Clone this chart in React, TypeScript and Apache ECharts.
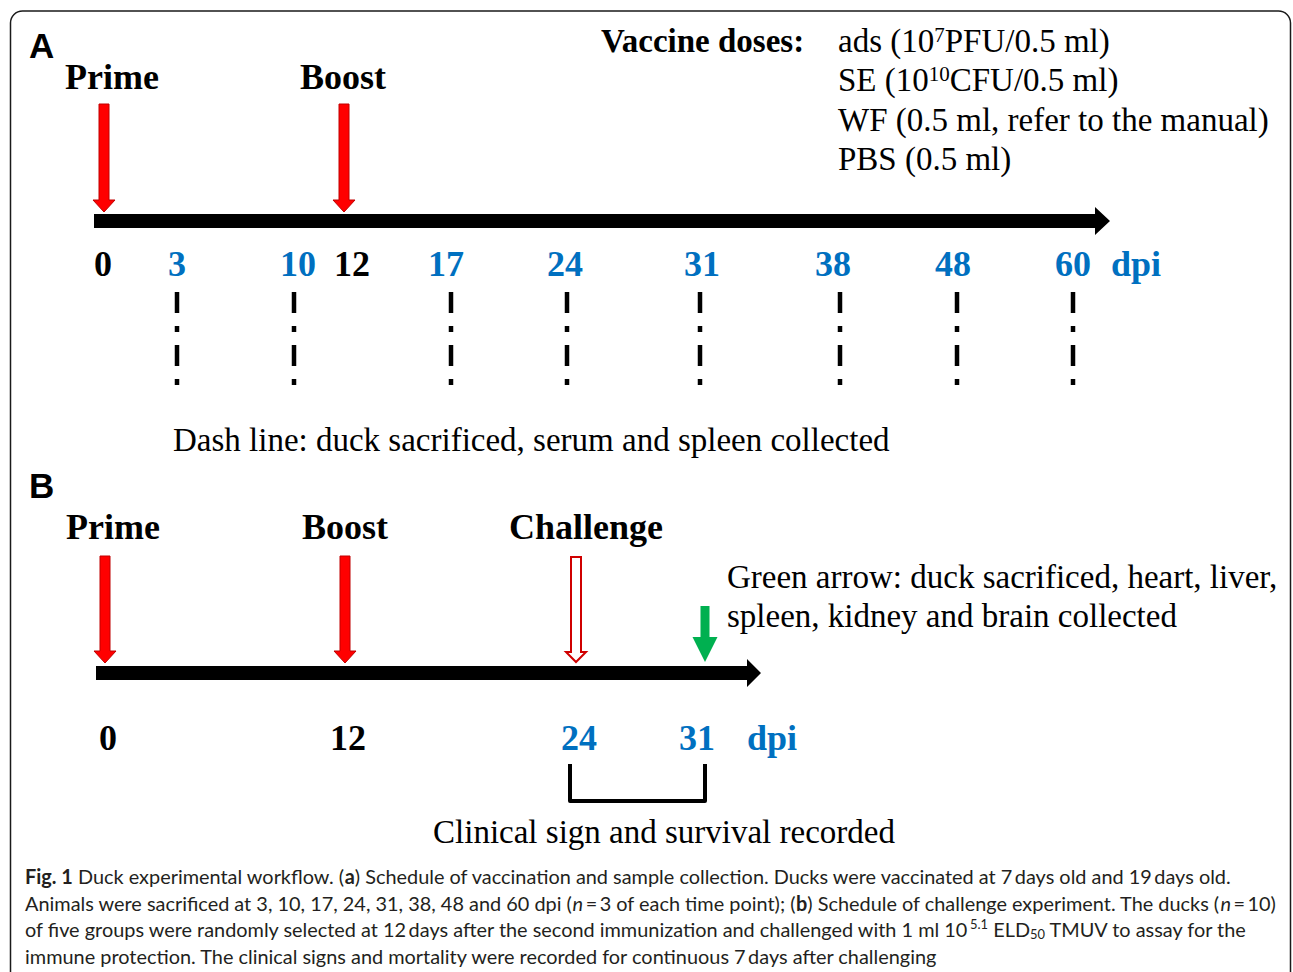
import React, { useEffect, useRef } from 'react';
import * as echarts from 'echarts';

// ---------- content ----------
const panelADays = [0, 3, 10, 12, 17, 24, 31, 38, 48, 60];
const vaccinationDays = [0, 12];
const samplingDays = [3, 10, 17, 24, 31, 38, 48, 60];
const panelAEventLabels = ['Prime', 'Boost'];
const panelAEventDays = [0, 12];

const panelBDays = [0, 12, 24, 31];
const panelBEventLabels = ['Prime', 'Boost', 'Challenge'];
const panelBEventDays = [0, 12, 24];
const challengeDay = 24;
const necropsyDay = 31;
const observationWindow = [24, 31];

const doseTitle = 'Vaccine doses:';
const doseLines = [
  'ads (10{sup|7}PFU/0.5 ml)',
  'SE (10{sup|10}CFU/0.5 ml)',
  'WF (0.5 ml, refer to the manual)',
  'PBS (0.5 ml)',
];
const dashNote = 'Dash line: duck sacrificed, serum and spleen collected';
const greenNote = ['Green arrow: duck sacrificed, heart, liver,', 'spleen, kidney and brain collected'];
const windowNote = 'Clinical sign and survival recorded';
const captionLines = [
  '{b|Fig. 1} Duck experimental workflow. ({b|a}) Schedule of vaccination and sample collection. Ducks were vaccinated at 7\u2009days old and 19\u2009days old.',
  'Animals were sacrificed at 3, 10, 17, 24, 31, 38, 48 and 60 dpi ({i|n}\u2009=\u20093 of each time point); ({b|b}) Schedule of challenge experiment. The ducks ({i|n}\u2009=\u200910)',
  'of five groups were randomly selected at 12\u2009days after the second immunization and challenged with 1 ml 10{sup|5.1} ELD{sub|50} TMUV to assay for the',
  'immune protection. The clinical signs and mortality were recorded for continuous 7\u2009days after challenging',
];

// ---------- layout (schematic, non-linear timeline) ----------
const A_LABEL_X: Record<number, number> = { 0: 103, 3: 177, 10: 298, 12: 352, 17: 446, 24: 565, 31: 702, 38: 833, 48: 953, 60: 1073 };
const A_DASH_X: Record<number, number> = { 3: 177, 10: 294, 17: 451, 24: 567, 31: 700, 38: 840, 48: 957, 60: 1073 };
const A_ARROW_X: Record<number, number> = { 0: 104, 12: 344 };
const A_EVENT_X: Record<number, number> = { 0: 65, 12: 300 };
const B_LABEL_X: Record<number, number> = { 0: 108, 12: 348, 24: 579, 31: 697 };
const B_ARROW_X: Record<number, number> = { 0: 105, 12: 345, 24: 576, 31: 705 };
const B_EVENT_X: Record<number, number> = { 0: 66, 12: 302, 24: 509 };

const SERIF = '"Liberation Serif", "Times New Roman", serif';
const SANS = '"Liberation Sans", Arial, sans-serif';
const CAP = 'Lato';
const BLUE = '#0070C0';
const RED = '#FF0000';

function downArrow(x: number, top: number, tip: number, shaftW: number, headW: number, headH: number, style: any) {
  const s = shaftW / 2, h = headW / 2, hy = tip - headH;
  return {
    type: 'polygon',
    shape: { points: [[x - s, top], [x + s, top], [x + s, hy], [x + h, hy], [x, tip], [x - h, hy], [x - s, hy]] },
    style,
  };
}

function timeline(x0: number, x1: number, yc: number, thick: number, headLen: number, headHalf: number) {
  const t = thick / 2;
  return {
    type: 'polygon',
    shape: {
      points: [[x0, yc - t], [x1 - headLen, yc - t], [x1 - headLen, yc - headHalf], [x1, yc], [x1 - headLen, yc + headHalf], [x1 - headLen, yc + t], [x0, yc + t]],
    },
    style: { fill: '#000' },
  };
}

function txt(x: number, y: number, text: string, font: string, fill = '#000', align = 'left') {
  return {
    type: 'text', x, y,
    style: { text, font, fill, textAlign: align, textVerticalAlign: 'middle' },
  };
}

function measureCaptionLine1(): number {
  const ctx = document.createElement('canvas').getContext('2d');
  if (!ctx) return 1208;
  const parts: [string, string][] = [
    ['bold 20px ' + CAP, 'Fig. 1'],
    ['20px ' + CAP, ' Duck experimental workflow. ('],
    ['bold 20px ' + CAP, 'a'],
    ['20px ' + CAP, ') Schedule of vaccination and sample collection. Ducks were vaccinated at 7\u2009days old and 19\u2009days old.'],
  ];
  let w = 0;
  for (const [f, t] of parts) { ctx.font = f; w += ctx.measureText(t).width; }
  return w;
}

export default function App() {
  const ref = useRef<HTMLDivElement>(null);
  useEffect(() => {
    if (!ref.current) return;
    const chart = echarts.init(ref.current, undefined, { renderer: 'svg' });
    const els: any[] = [];

    // frame
    els.push({ type: 'rect', shape: { x: 10.5, y: 11, width: 1280, height: 1100, r: 12 }, style: { fill: 'none', stroke: '#1a1a1a', lineWidth: 1.5 } });

    // ---- Panel A ----
    els.push(txt(29, 45, 'A', `bold 35px ${SANS}`));
    panelAEventLabels.forEach((lab, i) => {
      const d = panelAEventDays[i];
      els.push(txt(A_EVENT_X[d], 77, lab, `bold 36px ${SERIF}`));
      els.push(downArrow(A_ARROW_X[d], 104, 212, 10, 22, 12, { fill: RED, stroke: '#C00000', lineWidth: 1 }));
    });
    els.push(timeline(94, 1110, 221, 14, 15, 14));
    panelADays.forEach((d) => {
      const isVac = vaccinationDays.indexOf(d) >= 0;
      els.push(txt(A_LABEL_X[d], 264, String(d), `bold 36px ${SERIF}`, isVac ? '#000' : BLUE, 'center'));
    });
    els.push(txt(1136, 264, 'dpi', `bold 36px ${SERIF}`, BLUE, 'center'));
    samplingDays.forEach((d) => {
      els.push({
        type: 'line',
        shape: { x1: A_DASH_X[d], y1: 292, x2: A_DASH_X[d], y2: 388 },
        style: { stroke: '#000', lineWidth: 4.5, lineDash: [21, 13, 6, 13], lineCap: 'butt' },
      });
    });
    els.push(txt(173, 440, dashNote, `33px ${SERIF}`));

    // doses
    els.push(txt(601, 41, doseTitle, `bold 33px ${SERIF}`));
    doseLines.forEach((line, i) => {
      els.push({
        type: 'text', x: 838, y: 41 + i * 39.3,
        style: {
          text: line, font: `33px ${SERIF}`, fill: '#000', textAlign: 'left', textVerticalAlign: 'middle',
          rich: { sup: { fontSize: 21, fontFamily: SERIF, fill: '#000', verticalAlign: 'top' } },
        },
      });
    });

    // ---- Panel B ----
    els.push(txt(29, 485, 'B', `bold 35px ${SANS}`));
    panelBEventLabels.forEach((lab, i) => {
      const d = panelBEventDays[i];
      els.push(txt(B_EVENT_X[d], 527, lab, `bold 36px ${SERIF}`));
      if (d === challengeDay) {
        els.push(downArrow(B_ARROW_X[d], 557, 662, 10, 20, 10, { fill: '#fff', stroke: '#D00000', lineWidth: 2 }));
      } else {
        els.push(downArrow(B_ARROW_X[d], 556, 663, 10, 22, 12, { fill: RED, stroke: '#C00000', lineWidth: 1 }));
      }
    });
    els.push(downArrow(B_ARROW_X[necropsyDay], 606, 662, 9, 25, 25, { fill: '#00B050' }));
    els.push(timeline(96, 761, 673, 14, 14, 14));
    panelBDays.forEach((d) => {
      const isVac = vaccinationDays.indexOf(d) >= 0;
      els.push(txt(B_LABEL_X[d], 738, String(d), `bold 36px ${SERIF}`, isVac ? '#000' : BLUE, 'center'));
    });
    els.push(txt(772, 738, 'dpi', `bold 36px ${SERIF}`, BLUE, 'center'));
    els.push(txt(727, 577, greenNote[0], `33px ${SERIF}`));
    els.push(txt(727, 616, greenNote[1], `33px ${SERIF}`));

    const bx0 = B_ARROW_X[observationWindow[0]] - 6;
    const bx1 = B_ARROW_X[observationWindow[1]];
    els.push({
      type: 'polyline',
      shape: { points: [[bx0, 764], [bx0, 801], [bx1, 801], [bx1, 764]] },
      style: { stroke: '#000', lineWidth: 4, fill: 'none', lineJoin: 'round' },
    });
    els.push(txt(664, 832, windowNote, `33px ${SERIF}`, '#000', 'center'));

    // ---- caption ----
    const sx = 1208 / measureCaptionLine1();
    captionLines.forEach((line, i) => {
      els.push({
        type: 'text', x: 25, y: 876 + i * 26.7, scaleX: sx,
        style: {
          text: line, font: `20px ${CAP}`, fill: '#231F20', textAlign: 'left', textVerticalAlign: 'middle',
          rich: {
            b: { fontWeight: 'bold', fontSize: 20, fontFamily: CAP, fill: '#231F20' },
            i: { fontStyle: 'italic', fontSize: 20, fontFamily: CAP, fill: '#231F20' },
            sup: { fontSize: 13, fontFamily: CAP, fill: '#231F20', verticalAlign: 'top' },
            sub: { fontSize: 13, fontFamily: CAP, fill: '#231F20', verticalAlign: 'middle', padding: [10, 0, 0, 0] },
          },
        },
      });
    });

    chart.setOption({
      animation: false,
      backgroundColor: '#fff',
      graphic: { elements: els },
    });
    return () => chart.dispose();
  }, []);

  return <div ref={ref} style={{ position: 'absolute', left: 0, top: 0, width: 1293, height: 972 }} />;
}
